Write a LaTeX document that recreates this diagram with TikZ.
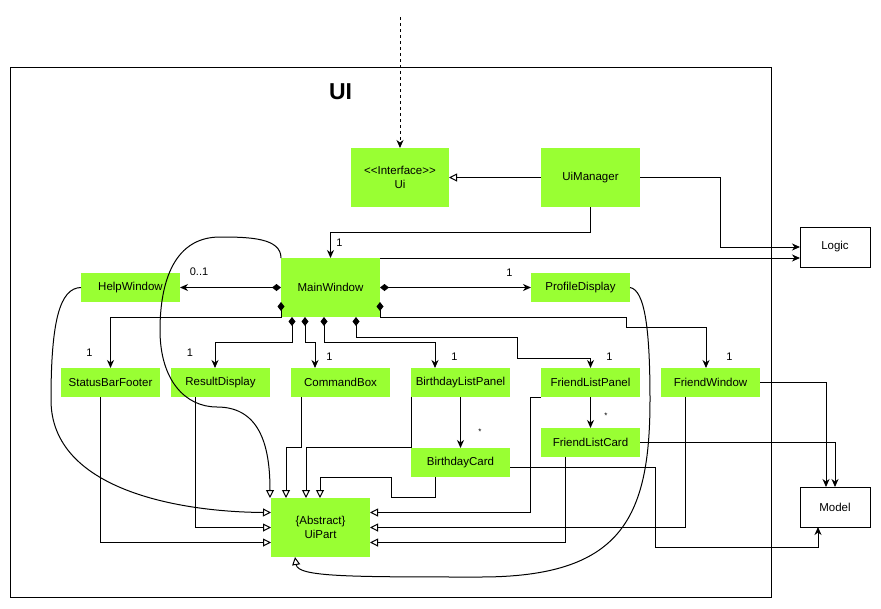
\documentclass[tikz,border=0pt]{standalone}
\usepackage{fontspec}
\setmainfont{Liberation Sans}
\usetikzlibrary{arrows.meta,calc}
\definecolor{lime}{RGB}{153,255,51}
\begin{document}
\begin{tikzpicture}[x=1pt,y=-1pt,
  cls/.style={fill=lime, draw=none, minimum width=99pt, minimum height=29pt,
    inner sep=0pt, outer sep=0pt, font=\fontsize{11.5}{13.5}\selectfont, align=center},
  tallcls/.style={cls, minimum height=59pt},
  extbox/.style={draw=black, fill=white, line width=1pt, minimum width=70pt,
    minimum height=40pt, inner sep=0pt, outer sep=0pt, font=\fontsize{11.5}{13.5}\selectfont},
  conn/.style={line width=1pt, draw=black},
  assoc/.style={conn, -{Stealth[length=8pt,width=7pt,inset=2.5pt]}},
  comp/.style={conn, {Diamond[length=9pt,width=7pt]}-{Stealth[length=8pt,width=7pt,inset=2.5pt]}},
  inherit/.style={conn, -{Triangle[open,length=8pt,width=8pt,fill=white]}},
  mult/.style={font=\fontsize{11}{12}\selectfont, inner sep=0pt}
]
\useasboundingbox (0,0) rectangle (881,608);

% package frame
\node (frame) [draw, line width=1pt, minimum width=761pt, minimum height=530pt,
  inner sep=0pt, outer sep=0pt] at (390.5,332) {};
\node (title) [font=\fontsize{23}{26}\selectfont\bfseries, inner sep=0pt] at (340.5,92) {UI};

% classes
\node (ui)      [tallcls, minimum width=98pt] at (400,177.5)
  {<\kern0pt<Interface>\kern0pt>\\Ui};
\node (uimgr)   [tallcls] at (590.5,177.5) {UiManager};
\node (mainwin) [tallcls] at (330.5,287.5) {MainWindow};
\node (help)    [cls] at (130.5,287.5) {HelpWindow};
\node (profile) [cls] at (580.5,287.5) {ProfileDisplay};
\node (status)  [cls] at (110.5,382.5) {StatusBarFooter};
\node (result)  [cls] at (220.5,382.5) {ResultDisplay};
\node (cmd)     [cls] at (340.5,382.5) {CommandBox};
\node (bpanel)  [cls] at (460.5,382.5) {BirthdayListPanel};
\node (fpanel)  [cls] at (590.5,382.5) {FriendListPanel};
\node (fwin)    [cls] at (710.5,382.5) {FriendWindow};
\node (bcard)   [cls] at (460.5,462.5) {BirthdayCard};
\node (fcard)   [cls] at (590.5,442.5) {FriendListCard};
\node (uipart)  [tallcls] at (320.5,527.5) {\{Abstract\}\\UiPart};

% other components
\node (logic) [extbox] at (835,247) {Logic};
\node (model) [extbox] at (835,507) {Model};

% incoming dependency from outside
\coordinate (caller) at (400,17);
\draw[conn, dash pattern=on 3pt off 3pt, -{Stealth[length=8pt,width=7pt,inset=2.5pt]}] (caller) -- (ui.north);

% UiManager
\draw[inherit] (uimgr.west) -- (ui.east);
\draw[assoc] (uimgr.east) -- ++(80,0) |- (logic.west);
\draw[assoc] (uimgr.south) -- ++(0,25) -| (mainwin.north);
\node (m0) [mult] at (339.5,243) {1};

% MainWindow associations
\draw[assoc] (mainwin.north east) -- (mainwin.north east -| logic.west);
\draw[comp] (mainwin.west) -- (help.east);
\node (m1) [mult] at (199,272) {0..1};
\draw[comp] (mainwin.east) -- (profile.west);
\node (m2) [mult] at (509.5,273) {1};

\draw[comp] ($(mainwin.south west)+(0,-15)$) -- (mainwin.south west) -| (status.north);
\node (m3) [mult] at (89.5,353) {1};
\draw[comp] ($(mainwin.south west)+(11,0)$) -- ++(0,25) -| ($(result.north)+(-5.5,0)$);
\node (m4) [mult] at (190,353) {1};
\draw[comp] ($(mainwin.south west)+(24,0)$) -- ++(0,25) -| ($(cmd.north)+(-25.5,0)$);
\node (m5) [mult] at (329.5,357) {1};
\draw[comp] ($(mainwin.south west)+(43,0)$) -- ++(0,25) -| ($(bpanel.north)+(-25.5,0)$);
\node (m6) [mult] at (454.5,357) {1};
\draw[comp] ($(mainwin.south west)+(75,0)$) -- ++(0,20) -- ++(161,0) -- ++(0,21)
  -| (fpanel.north);
\node (m7) [mult] at (609.5,357) {1};
\draw[comp] ($(mainwin.south east)+(0,-15)$) -- (mainwin.south east) -- ++(246,0)
  -- ++(0,10) -| ($(fwin.north)+(-4.5,0)$);
\node (m8) [mult] at (729.5,357) {1};

% list panels and their cards
\draw[assoc] (bpanel.south) -- (bcard.north);
\node (m9) [mult, font=\fontsize{8}{9}\selectfont] at (480,432) {*};
\draw[assoc] (fpanel.south) -- (fcard.north);
\node (m10) [mult, font=\fontsize{8}{9}\selectfont] at (606,416) {*};

% inheritance from UiPart
\draw[inherit] (mainwin.north west) .. controls (281,238) and (250,237) .. (220,237)
  .. controls (170,237) and (160,290) .. (160,330)
  .. controls (160,380) and (185,407) .. (217,407)
  .. controls (262,407) and (270,450) .. ($(uipart.north west)+(-1,0)$);
\draw[inherit] ($(cmd.south west)+(10,0)$) -- ++(0,50) -| ($(uipart.north west)+(15,0)$);
\draw[inherit] (bpanel.south west) -- ++(0,50) -| ($(uipart.north west)+(35,0)$);
\draw[inherit] ($(bcard.south)+(-25.5,0)$) -- ++(0,20) -- ++(-44,0) -- ++(0,-20)
  -| ($(uipart.north west)+(49,0)$);
\draw[inherit] (help.west) .. controls (60,288) and (51,320) .. (51,400)
  .. controls (51,490) and (180,512) .. ($(uipart.west)+(0,-15)$);
\draw[inherit] ($(result.south west)+(24,0)$) |- (uipart.west);
\draw[inherit] ($(status.south west)+(39,0)$) |- ($(uipart.west)+(0,15)$);
\draw[inherit] (fpanel.south west) -- ++(-11,0) |- ($(uipart.east)+(0,-15)$);
\draw[inherit] ($(fwin.south west)+(24,0)$) |- (uipart.east);
\draw[inherit] ($(fcard.south west)+(24,0)$) |- ($(uipart.east)+(0,15)$);
\draw[inherit] (profile.east) .. controls (645,290) and (650,330) .. (650,400)
  .. controls (650,520) and (620,577) .. (480,577)
  .. controls (350,577) and (298,577) .. ($(uipart.south)+(-25.5,0)$);

% dependencies on Model
\draw[assoc] (fwin.east) -| ($(model.north west)+(26,0)$);
\draw[assoc] (fcard.east) -| (model.north);
\draw[assoc] ($(bcard.east)+(0,4.5)$) -- ++(145,0) -- ++(0,80) -| ($(model.south west)+(18,0)$);
\end{tikzpicture}
\end{document}
